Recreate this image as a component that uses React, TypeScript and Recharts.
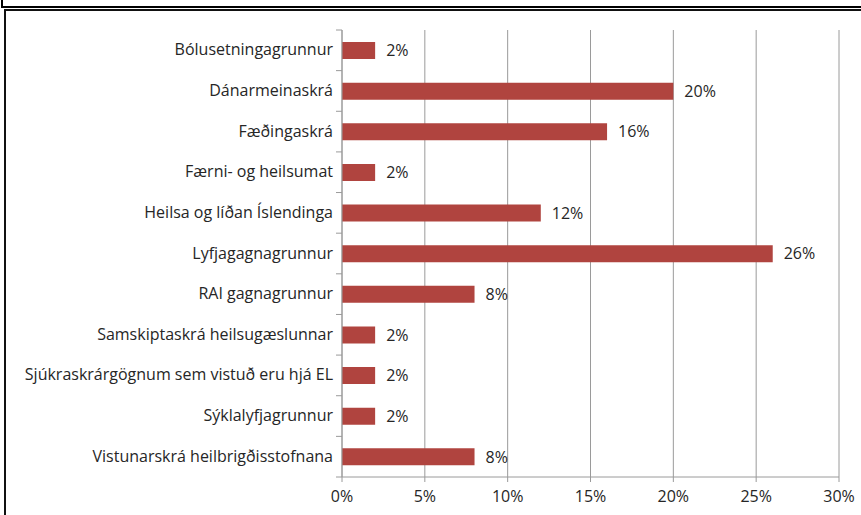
import React from "react";
import { BarChart, Bar, XAxis, YAxis, CartesianGrid, LabelList } from "recharts";

const categories = [
  "Bólusetningagrunnur",
  "Dánarmeinaskrá",
  "Fæðingaskrá",
  "Færni- og heilsumat",
  "Heilsa og líðan Íslendinga",
  "Lyfjagagnagrunnur",
  "RAI gagnagrunnur",
  "Samskiptaskrá heilsugæslunnar",
  "Sjúkraskrárgögnum sem vistuð eru hjá EL",
  "Sýklalyfjagrunnur",
  "Vistunarskrá heilbrigðisstofnana",
];
const values = [2, 20, 16, 2, 12, 26, 8, 2, 2, 2, 8];
const xTicks = [0, 5, 10, 15, 20, 25, 30];

const data = categories.map((name, i) => ({ name, value: values[i] }));

const FONT = "'Open Sans', sans-serif";
const AXIS = "#9a9a9a";
const FS = 16;

const YTick = (props: any) => {
  const { x, y, payload, index, visibleTicksCount } = props;
  const off = payload.offset || 0;
  const ax = x + 8;
  return (
    <g>
      <line x1={ax - 6} x2={ax} y1={y - off} y2={y - off} stroke={AXIS} />
      {index === visibleTicksCount - 1 && (
        <line x1={ax - 6} x2={ax} y1={y + off} y2={y + off} stroke={AXIS} />
      )}
      <text x={x - 1} y={y} dy={5} textAnchor="end" fill="#262626" fontSize={FS} fontFamily={FONT}>
        {payload.value}
      </text>
    </g>
  );
};

export default function App() {
  return (
    <div style={{ position: "absolute", left: 0, top: 0, width: 861, height: 515, background: "#fff", overflow: "hidden" }}>
      <div style={{ position: "absolute", left: 1, top: -4, width: 920, height: 12, border: "2px solid #000", boxSizing: "border-box" }} />
      <div style={{ position: "absolute", left: 4, top: 9, width: 920, height: 540, border: "2px solid #111", boxSizing: "border-box" }} />
      <div style={{ position: "absolute", left: 0, top: 0 }}>
        <BarChart
          width={861}
          height={515}
          data={data}
          layout="vertical"
          margin={{ top: 30, right: 22, bottom: 8, left: 0 }}
          barCategoryGap={0}
        >
          <CartesianGrid horizontal={false} vertical={true} stroke={AXIS} strokeWidth={1} />
          <XAxis
            type="number"
            domain={[0, 30]}
            ticks={xTicks}
            tickFormatter={(v: number) => `${v}%`}
            axisLine={{ stroke: AXIS }}
            tickLine={{ stroke: AXIS }}
            tickSize={5}
            tickMargin={9}
            tick={{ fill: "#262626", fontSize: FS, fontFamily: FONT }}
            interval={0}
            height={30}
          />
          <YAxis
            type="category"
            dataKey="name"
            width={342}
            axisLine={{ stroke: AXIS }}
            tickLine={false}
            tick={<YTick />}
            interval={0}
          />
          <Bar dataKey="value" fill="#b0443f" barSize={17} isAnimationActive={false}>
            <LabelList
              dataKey="value"
              position="right"
              offset={11}
              formatter={(v: any) => `${v}%`}
              fill="#262626"
              fontSize={FS}
              fontFamily={FONT}
            />
          </Bar>
        </BarChart>
      </div>
    </div>
  );
}
